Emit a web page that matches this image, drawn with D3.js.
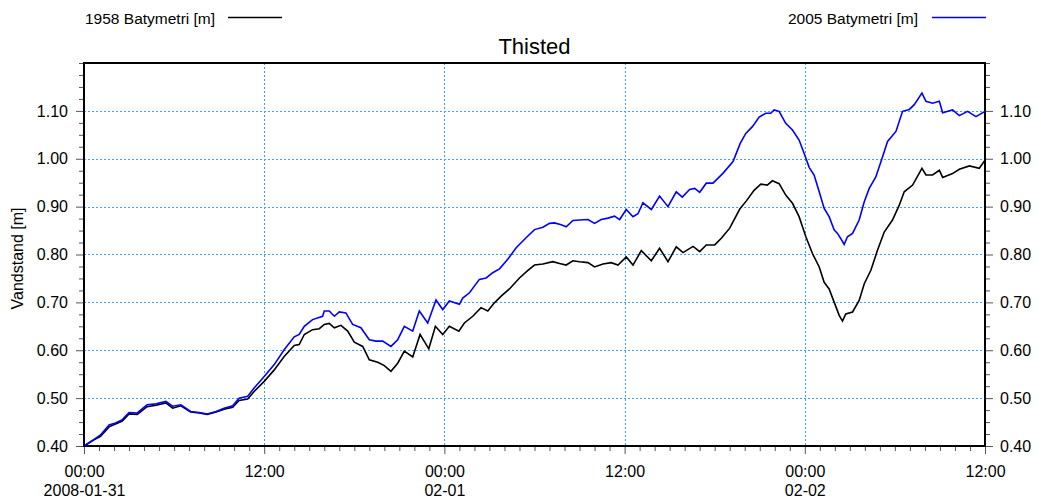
<!DOCTYPE html>
<html>
<head>
<meta charset="utf-8">
<script src="https://cdn.jsdelivr.net/npm/d3@7"></script>
<style>
  html, body { margin: 0; padding: 0; background: #fff; }
  svg { display: block; font-family: "Liberation Sans", Arial, sans-serif; }
</style>
</head>
<body>
<svg id="chart" width="1041" height="499"></svg>
<script>
// ---------- data ----------
const chartTitle = "Thisted";
const yAxisTitle = "Vandstand [m]";
const seriesNames = ["1958 Batymetri [m]", "2005 Batymetri [m]"];
const startTime = "2008-01-31T00:00:00Z";
const spanHours = 60;

const hours1958 = [0,0.67,1.1,1.67,2.1,2.55,3.0,3.55,4.2,4.8,5.45,5.9,6.45,7.1,7.67,8.2,8.8,9.33,9.9,10.33,10.9,11.33,12.0,12.67,13.33,14.0,14.33,14.67,15.22,15.67,16.0,16.33,16.67,17.11,17.56,18.0,18.56,19.0,19.56,20.0,20.44,20.89,21.33,21.89,22.38,22.96,23.4,23.89,24.33,24.96,25.33,25.89,26.44,26.89,27.33,27.78,28.33,29.0,29.56,30.0,30.56,31.22,31.67,32.11,32.56,33.0,33.56,34.0,34.56,35.11,35.56,36.11,36.56,37.11,37.78,38.33,38.89,39.44,39.89,40.56,41.0,41.44,42.0,42.44,43.0,43.67,44.11,44.62,45.07,45.5,45.84,46.29,46.73,47.18,47.62,48.07,48.51,48.96,49.29,49.62,49.96,50.29,50.51,50.73,51.18,51.62,51.96,52.4,52.84,53.29,53.84,54.29,54.62,55.18,55.8,56.07,56.51,56.96,57.18,57.84,58.29,58.96,59.62,60];
const level1958 = [0.400,0.413,0.420,0.440,0.446,0.452,0.467,0.466,0.482,0.485,0.490,0.479,0.484,0.471,0.469,0.466,0.471,0.477,0.481,0.495,0.498,0.514,0.535,0.559,0.587,0.610,0.612,0.633,0.643,0.645,0.654,0.656,0.647,0.652,0.640,0.617,0.608,0.580,0.575,0.568,0.556,0.573,0.598,0.586,0.633,0.603,0.650,0.633,0.650,0.640,0.657,0.671,0.689,0.682,0.699,0.713,0.728,0.751,0.767,0.778,0.780,0.785,0.781,0.778,0.787,0.785,0.783,0.774,0.780,0.783,0.778,0.795,0.778,0.808,0.787,0.813,0.785,0.816,0.804,0.817,0.806,0.820,0.820,0.834,0.855,0.895,0.912,0.934,0.947,0.945,0.954,0.948,0.924,0.907,0.879,0.837,0.802,0.774,0.742,0.728,0.700,0.673,0.661,0.676,0.680,0.704,0.739,0.767,0.809,0.847,0.872,0.903,0.931,0.945,0.980,0.966,0.966,0.976,0.961,0.969,0.978,0.985,0.980,0.997];

const hours2005 = [0,0.67,1.1,1.67,2.1,2.55,3.0,3.55,4.2,4.8,5.45,5.9,6.45,7.1,7.67,8.2,8.8,9.33,9.9,10.33,10.9,11.33,12.0,12.67,13.33,14.0,14.33,14.67,15.22,15.89,16.0,16.33,16.67,17.0,17.44,17.89,18.44,19.0,19.44,19.89,20.44,20.89,21.33,21.89,22.33,22.89,23.44,23.89,24.33,25.0,25.22,25.67,26.33,26.78,27.22,27.67,28.22,28.78,29.44,30.0,30.56,31.0,31.33,31.78,32.11,32.56,33.0,33.56,34.0,34.44,34.89,35.33,35.67,36.11,36.56,36.89,37.22,37.78,38.33,38.89,39.44,39.84,40.33,40.67,41.0,41.44,41.89,42.56,43.22,43.7,44.07,44.51,44.96,45.4,45.73,45.96,46.29,46.73,47.18,47.62,47.96,48.29,48.62,48.96,49.29,49.62,49.96,50.18,50.4,50.62,50.84,51.18,51.62,51.96,52.29,52.73,53.18,53.51,54.07,54.51,54.96,55.29,55.8,56.07,56.51,56.96,57.18,57.84,58.29,58.84,59.4,60];
const level2005 = [0.400,0.414,0.423,0.444,0.448,0.455,0.470,0.469,0.486,0.488,0.493,0.483,0.486,0.472,0.470,0.467,0.472,0.479,0.484,0.500,0.504,0.521,0.545,0.570,0.601,0.628,0.633,0.650,0.664,0.671,0.682,0.682,0.671,0.680,0.678,0.654,0.647,0.622,0.619,0.619,0.608,0.622,0.650,0.640,0.682,0.657,0.705,0.685,0.703,0.696,0.709,0.720,0.748,0.751,0.762,0.770,0.790,0.814,0.835,0.852,0.857,0.865,0.866,0.862,0.858,0.871,0.872,0.873,0.865,0.873,0.876,0.880,0.873,0.894,0.879,0.885,0.908,0.894,0.922,0.900,0.931,0.920,0.936,0.938,0.930,0.949,0.949,0.970,0.994,1.032,1.053,1.067,1.087,1.095,1.095,1.102,1.099,1.074,1.060,1.039,1.011,0.982,0.966,0.931,0.896,0.879,0.851,0.844,0.833,0.821,0.837,0.844,0.872,0.910,0.938,0.962,1.004,1.036,1.057,1.099,1.103,1.113,1.137,1.120,1.116,1.120,1.096,1.102,1.090,1.099,1.088,1.099];

const yMajorTicks = [0.40,0.50,0.60,0.70,0.80,0.90,1.00,1.10];
const yTickLabels = ["0.40","0.50","0.60","0.70","0.80","0.90","1.00","1.10"];
const xMajorHours = [0,12,24,36,48,60];
const xTickTime = ["00:00","12:00","00:00","12:00","00:00","12:00"];
const xTickDate = ["2008-01-31","","02-01","","02-02",""];

// ---------- layout ----------
const W = 1041, H = 499;
const m = {left: 84, right: 1041 - 985, top: 63, bottom: 499 - 446};
const svg = d3.select("#chart");
const t0 = new Date(startTime);
const toDate = h => new Date(t0.getTime() + h * 3600000);

const x = d3.scaleUtc().domain([t0, toDate(spanHours)]).range([m.left, W - m.right]);
const y = d3.scaleLinear().domain([0.40, 1.20]).range([H - m.bottom, m.top]);

const gridColor = "#3f9dff";
const tickColor = "#555";

// grid
const grid = svg.append("g");
grid.selectAll("line.h").data(yMajorTicks.slice(1)).join("line")
  .attr("x1", m.left).attr("x2", W - m.right)
  .attr("y1", d => Math.round(y(d)) + 0.5).attr("y2", d => Math.round(y(d)) + 0.5)
  .attr("stroke", gridColor).attr("stroke-width", 1).attr("stroke-dasharray", "2,2");
grid.selectAll("line.v").data(xMajorHours.slice(1, -1)).join("line")
  .attr("x1", d => Math.round(x(toDate(d))) + 0.5).attr("x2", d => Math.round(x(toDate(d))) + 0.5)
  .attr("y1", m.top).attr("y2", H - m.bottom)
  .attr("stroke", gridColor).attr("stroke-width", 1).attr("stroke-dasharray", "2,2");

// minor ticks
const yMinor = d3.range(0, 33).map(i => +(0.40 + i * 0.025).toFixed(3)).filter(v => !yMajorTicks.some(t => Math.abs(t - v) < 1e-6));
const xMinor = d3.range(0, spanHours + 1).filter(h => h % 12 !== 0).map(toDate);

function styleAxis(g) {
  g.select(".domain").remove();
  g.selectAll(".tick line").attr("stroke", tickColor).attr("stroke-width", 1);
}

svg.append("g").attr("transform", `translate(${m.left},0)`)
  .call(d3.axisLeft(y).tickValues(yMinor).tickSize(5).tickFormat(""))
  .call(styleAxis);
svg.append("g").attr("transform", `translate(${W - m.right},0)`)
  .call(d3.axisRight(y).tickValues(yMinor).tickSize(5).tickFormat(""))
  .call(styleAxis);
svg.append("g").attr("transform", `translate(0,${H - m.bottom})`)
  .call(d3.axisBottom(x).tickValues(xMinor).tickSize(5).tickFormat(""))
  .call(styleAxis);

// major ticks with labels
const yl = svg.append("g").attr("transform", `translate(${m.left},0)`)
  .call(d3.axisLeft(y).tickValues(yMajorTicks).tickSize(8).tickPadding(8)
    .tickFormat((d, i) => yTickLabels[i]))
  .call(styleAxis);
const yr = svg.append("g").attr("transform", `translate(${W - m.right},0)`)
  .call(d3.axisRight(y).tickValues(yMajorTicks).tickSize(8).tickPadding(7)
    .tickFormat((d, i) => yTickLabels[i]))
  .call(styleAxis);
[yl, yr].forEach(g => g.selectAll(".tick text")
  .attr("font-size", 16).attr("fill", "#000").attr("font-family", "Liberation Sans, Arial, sans-serif"));

const xl = svg.append("g").attr("transform", `translate(0,${H - m.bottom})`)
  .call(d3.axisBottom(x).tickValues(xMajorHours.map(toDate)).tickSize(8).tickFormat(""))
  .call(styleAxis);
xl.selectAll(".tick").each(function(d, i) {
  const t = d3.select(this).append("text").attr("fill", "#000").attr("font-size", 16)
    .attr("text-anchor", "middle").attr("font-family", "Liberation Sans, Arial, sans-serif");
  t.append("tspan").attr("x", 0).attr("y", 31).text(xTickTime[i]);
  if (xTickDate[i]) t.append("tspan").attr("x", 0).attr("y", 50).text(xTickDate[i]);
});

// frame
svg.append("rect").attr("x", m.left).attr("y", m.top)
  .attr("width", W - m.right - m.left).attr("height", H - m.bottom - m.top)
  .attr("fill", "none").attr("stroke", "#000").attr("stroke-width", 2);

// lines
const clip = svg.append("clipPath").attr("id", "clip").append("rect")
  .attr("x", m.left).attr("y", m.top).attr("width", W - m.right - m.left).attr("height", H - m.bottom - m.top);
const line = d3.line().x(d => x(toDate(d[0]))).y(d => y(d[1]));
const s1958 = hours1958.map((h, i) => [h, level1958[i]]);
const s2005 = hours2005.map((h, i) => [h, level2005[i]]);
svg.append("path").datum(s1958).attr("d", line).attr("fill", "none")
  .attr("stroke", "#000").attr("stroke-width", 1.6).attr("clip-path", "url(#clip)");
svg.append("path").datum(s2005).attr("d", line).attr("fill", "none")
  .attr("stroke", "#0000ff").attr("stroke-width", 1.6).attr("clip-path", "url(#clip)");

// title
svg.append("text").attr("x", (m.left + W - m.right) / 2).attr("y", 54)
  .attr("text-anchor", "middle").attr("font-size", 22).attr("fill", "#000").text(chartTitle);

// y-axis title
svg.append("text").attr("transform", `translate(23,${(m.top + H - m.bottom) / 2 + 4}) rotate(-90)`)
  .attr("text-anchor", "middle").attr("font-size", 16).attr("fill", "#000").text(yAxisTitle);

// legend
const legend = svg.append("g");
legend.append("text").attr("x", 85).attr("y", 24).attr("font-size", 15.5).attr("fill", "#000").text(seriesNames[0]);
legend.append("line").attr("x1", 228).attr("x2", 282).attr("y1", 17.5).attr("y2", 17.5)
  .attr("stroke", "#000").attr("stroke-width", 1.6);
legend.append("text").attr("x", 918).attr("y", 24).attr("text-anchor", "end").attr("font-size", 15.5).attr("fill", "#000").text(seriesNames[1]);
legend.append("line").attr("x1", 932).attr("x2", 986).attr("y1", 17.5).attr("y2", 17.5)
  .attr("stroke", "#0000ff").attr("stroke-width", 1.6);
</script>
</body>
</html>
